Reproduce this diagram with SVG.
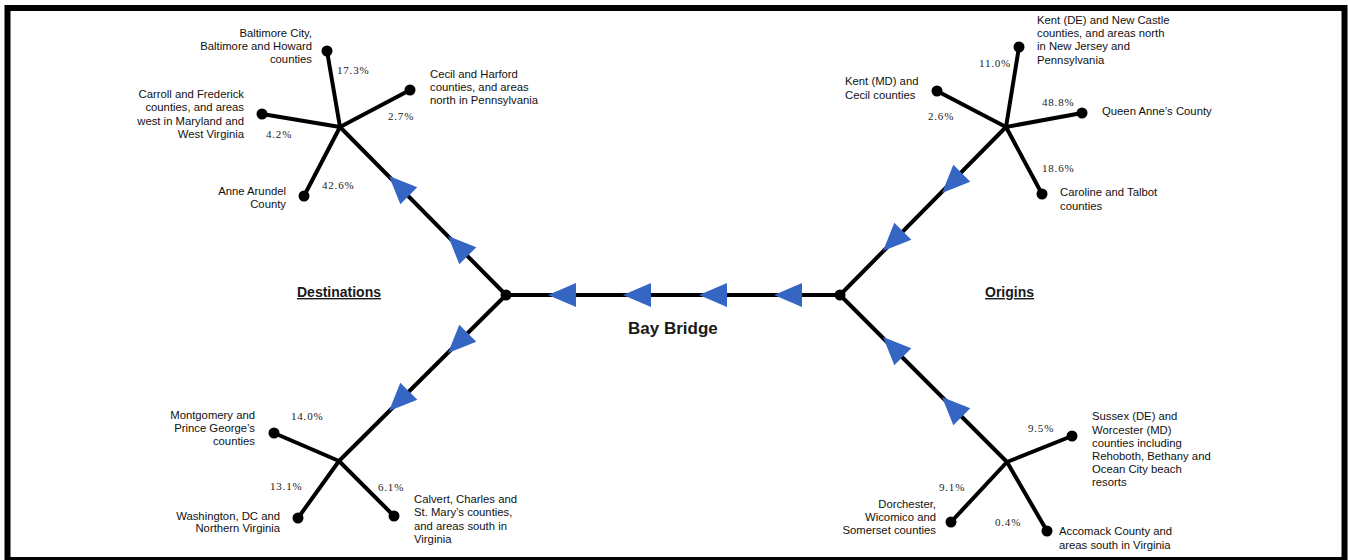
<svg xmlns="http://www.w3.org/2000/svg" width="1348" height="560" viewBox="0 0 1348 560">
<style>
.ln{stroke:#000;stroke-width:4;stroke-linecap:round;fill:none}
.dot{fill:#000}
.lb{font-family:"Liberation Sans",Arial,sans-serif;font-size:11.3px;fill:#111}
.r{text-anchor:end}
.pc{font-family:"Liberation Serif","Times New Roman",serif;font-size:11px;fill:#222;letter-spacing:0.8px}
.hd{font-family:"Liberation Sans",Arial,sans-serif;font-size:14px;font-weight:bold;fill:#1a1a1a;text-decoration:underline}
.tt{font-family:"Liberation Sans",Arial,sans-serif;font-size:17px;font-weight:bold;fill:#1a1a1a}
.ar{fill:#3566c4}
</style>
<defs>
<polygon id="arr" class="ar" points="0,0 28,-12 28,12"/>
</defs>
<rect x="7.5" y="8" width="1337" height="552" fill="#fff" stroke="#000" stroke-width="6"/>

<g id="connectors">
<line class="ln" x1="506" y1="295" x2="840" y2="295"/>
<line class="ln" x1="506" y1="295" x2="340" y2="127"/>
<line class="ln" x1="506" y1="295" x2="339" y2="461"/>
<line class="ln" x1="840" y1="295" x2="1006" y2="127"/>
<line class="ln" x1="840" y1="295" x2="1007" y2="462"/>
<line class="ln" x1="340" y1="127" x2="327" y2="51"/>
<line class="ln" x1="340" y1="127" x2="410" y2="90"/>
<line class="ln" x1="340" y1="127" x2="262" y2="114"/>
<line class="ln" x1="340" y1="127" x2="304" y2="196"/>
<line class="ln" x1="1006" y1="127" x2="1019" y2="47"/>
<line class="ln" x1="1006" y1="127" x2="937" y2="91"/>
<line class="ln" x1="1006" y1="127" x2="1082" y2="113"/>
<line class="ln" x1="1006" y1="127" x2="1042" y2="194"/>
<line class="ln" x1="339" y1="461" x2="274" y2="433"/>
<line class="ln" x1="339" y1="461" x2="298" y2="518"/>
<line class="ln" x1="339" y1="461" x2="394" y2="516"/>
<line class="ln" x1="1007" y1="462" x2="1072" y2="436"/>
<line class="ln" x1="1007" y1="462" x2="951" y2="522"/>
<line class="ln" x1="1007" y1="462" x2="1047" y2="531"/>
<use href="#arr" transform="translate(548,295)"/>
<use href="#arr" transform="translate(623,295)"/>
<use href="#arr" transform="translate(699,295)"/>
<use href="#arr" transform="translate(774,295)"/>
<use href="#arr" transform="translate(389,176) rotate(45)"/>
<use href="#arr" transform="translate(448,236) rotate(45)"/>
<use href="#arr" transform="translate(448,353) rotate(-45)"/>
<use href="#arr" transform="translate(389,411) rotate(-45)"/>
<use href="#arr" transform="translate(942,193) rotate(-45)"/>
<use href="#arr" transform="translate(883,251) rotate(-45)"/>
<use href="#arr" transform="translate(883,337) rotate(45)"/>
<use href="#arr" transform="translate(942,397) rotate(45)"/>
</g>

<g id="hub-destinations"><circle class="dot" cx="506" cy="295" r="5.5"/></g>
<g id="hub-origins"><circle class="dot" cx="840" cy="295" r="5.5"/></g>

<g id="title-bay-bridge"><text class="tt" x="628" y="334">Bay Bridge</text></g>
<g id="heading-destinations"><text class="hd" x="297" y="297">Destinations</text></g>
<g id="heading-origins"><text class="hd" x="985" y="297">Origins</text></g>

<g id="dest-baltimore">
<circle class="dot" cx="327" cy="51" r="5.5"/>
<text class="lb r" x="312" y="37">Baltimore City,</text>
<text class="lb r" x="312" y="50">Baltimore and Howard</text>
<text class="lb r" x="312" y="63">counties</text>
<text class="pc" x="337" y="74">17.3%</text>
</g>
<g id="dest-cecil-harford">
<circle class="dot" cx="410" cy="90" r="5.5"/>
<text class="lb" x="430" y="77.5">Cecil and Harford</text>
<text class="lb" x="430" y="91">counties, and areas</text>
<text class="lb" x="430" y="104">north in Pennsylvania</text>
<text class="pc" x="388" y="120">2.7%</text>
</g>
<g id="dest-carroll-frederick">
<circle class="dot" cx="262" cy="114" r="5.5"/>
<text class="lb r" x="244" y="97.5">Carroll and Frederick</text>
<text class="lb r" x="244" y="111">counties, and areas</text>
<text class="lb r" x="244" y="124.5">west in Maryland and</text>
<text class="lb r" x="244" y="138">West Virginia</text>
<text class="pc" x="266" y="138">4.2%</text>
</g>
<g id="dest-anne-arundel">
<circle class="dot" cx="304" cy="196" r="5.5"/>
<text class="lb r" x="286" y="195">Anne Arundel</text>
<text class="lb r" x="286" y="208">County</text>
<text class="pc" x="322" y="189">42.6%</text>
</g>
<g id="dest-montgomery">
<circle class="dot" cx="274" cy="433" r="5.5"/>
<text class="lb r" x="255" y="418.5">Montgomery and</text>
<text class="lb r" x="255" y="431.5">Prince George’s</text>
<text class="lb r" x="255" y="444.5">counties</text>
<text class="pc" x="291" y="420">14.0%</text>
</g>
<g id="dest-washington">
<circle class="dot" cx="298" cy="518" r="5.5"/>
<text class="lb r" x="280" y="519.5">Washington, DC and</text>
<text class="lb r" x="280" y="532">Northern Virginia</text>
<text class="pc" x="270" y="490">13.1%</text>
</g>
<g id="dest-calvert">
<circle class="dot" cx="394" cy="516" r="5.5"/>
<text class="lb" x="414" y="503">Calvert, Charles and</text>
<text class="lb" x="414" y="516">St. Mary’s counties,</text>
<text class="lb" x="414" y="529.5">and areas south in</text>
<text class="lb" x="414" y="542.5">Virginia</text>
<text class="pc" x="378" y="490.5">6.1%</text>
</g>

<g id="orig-kent-de">
<circle class="dot" cx="1019" cy="47" r="5.5"/>
<text class="lb" x="1037" y="23.5">Kent (DE) and New Castle</text>
<text class="lb" x="1037" y="37">counties, and areas north</text>
<text class="lb" x="1037" y="50">in New Jersey and</text>
<text class="lb" x="1037" y="63.5">Pennsylvania</text>
<text class="pc" x="979" y="66.5">11.0%</text>
</g>
<g id="orig-kent-md">
<circle class="dot" cx="937" cy="91" r="5.5"/>
<text class="lb" x="845" y="84.5">Kent (MD) and</text>
<text class="lb" x="845" y="98.5">Cecil counties</text>
<text class="pc" x="928" y="119.5">2.6%</text>
</g>
<g id="orig-queen-annes">
<circle class="dot" cx="1082" cy="113" r="5.5"/>
<text class="lb" x="1102" y="114.5">Queen Anne’s County</text>
<text class="pc" x="1042" y="105.5">48.8%</text>
</g>
<g id="orig-caroline-talbot">
<circle class="dot" cx="1042" cy="194" r="5.5"/>
<text class="lb" x="1060" y="196">Caroline and Talbot</text>
<text class="lb" x="1060" y="210">counties</text>
<text class="pc" x="1042" y="172">18.6%</text>
</g>
<g id="orig-sussex-worcester">
<circle class="dot" cx="1072" cy="436" r="5.5"/>
<text class="lb" x="1092" y="419.5">Sussex (DE) and</text>
<text class="lb" x="1092" y="433.5">Worcester (MD)</text>
<text class="lb" x="1092" y="447">counties including</text>
<text class="lb" x="1092" y="459.5">Rehoboth, Bethany and</text>
<text class="lb" x="1092" y="472.5">Ocean City beach</text>
<text class="lb" x="1092" y="486">resorts</text>
<text class="pc" x="1028" y="432">9.5%</text>
</g>
<g id="orig-dorchester">
<circle class="dot" cx="951" cy="522" r="5.5"/>
<text class="lb r" x="936" y="508">Dorchester,</text>
<text class="lb r" x="936" y="521">Wicomico and</text>
<text class="lb r" x="936" y="533.5">Somerset counties</text>
<text class="pc" x="939" y="491">9.1%</text>
</g>
<g id="orig-accomack">
<circle class="dot" cx="1047" cy="531" r="5.5"/>
<text class="lb" x="1059" y="534.5">Accomack County and</text>
<text class="lb" x="1059" y="548.5">areas south in Virginia</text>
<text class="pc" x="995" y="525.5">0.4%</text>
</g>
</svg>
